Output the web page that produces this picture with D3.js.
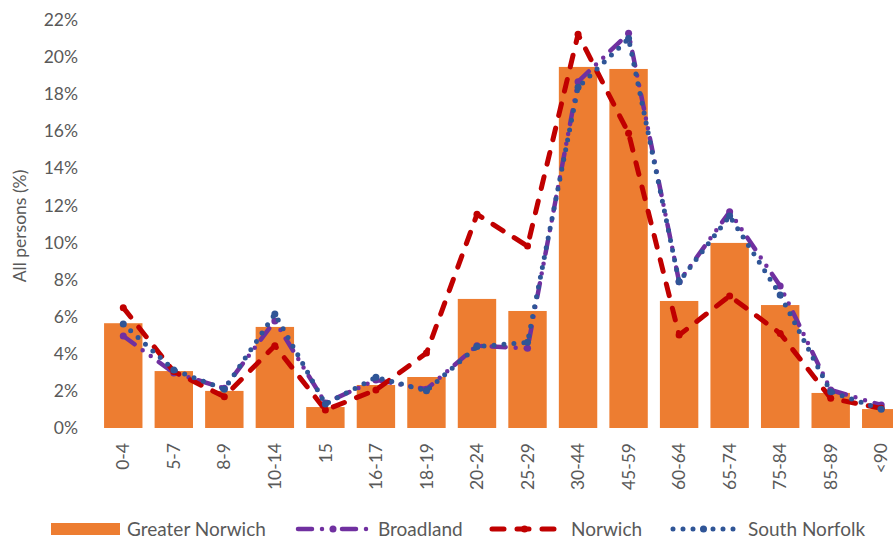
<!DOCTYPE html>
<html>
<head>
<meta charset="utf-8">
<script src="https://cdn.jsdelivr.net/npm/d3@7"></script>
<style>
  body { margin: 0; background: #fff; }
  svg { display: block; font-family: Lato, "Open Sans", sans-serif; }
</style>
</head>
<body>
<div id="container"></div>
<script>
/* CONSTANTS AND GLOBALS */
const width = 893,
  height = 540;

// DATA
const ageBands = ["0-4", "5-7", "8-9", "10-14", "15", "16-17", "18-19", "20-24",
  "25-29", "30-44", "45-59", "60-64", "65-74", "75-84", "85-89", "<90"];
const greaterNorwich = [5.65, 3.07, 2.0, 5.45, 1.13, 2.32, 2.75, 6.96,
  6.31, 19.47, 19.36, 6.85, 9.98, 6.63, 1.89, 1.02];
const broadland = [4.96, 2.97, 2.15, 5.77, 1.35, 2.59, 2.09, 4.44,
  4.3, 18.67, 21.28, 7.89, 11.66, 7.66, 2.05, 1.24];
const norwich = [6.49, 3.04, 1.69, 4.44, 0.97, 2.05, 4.04, 11.52,
  9.81, 21.23, 15.89, 5.01, 7.12, 5.1, 1.6, 1.06];
const southNorfolk = [5.61, 3.13, 2.09, 6.15, 1.29, 2.73, 2.01, 4.39,
  4.62, 18.37, 21.0, 7.89, 11.43, 7.17, 1.96, 1.01];
const yTicks = [0, 2, 4, 6, 8, 10, 12, 14, 16, 18, 20, 22];

const textColor = "#595959";
const lineSeries = [
  { name: "Broadland", values: broadland, color: "#7030A0", width: 4.5, dash: "14,10,0,10,0,10" },
  { name: "Norwich", values: norwich, color: "#C00000", width: 5, dash: "12,13" },
  { name: "South Norfolk", values: southNorfolk, color: "#2F5597", width: 5, dash: "0,10" }
];

const svg = d3.select("#container").append("svg")
  .attr("width", width)
  .attr("height", height);

// SCALES
const x = d3.scaleBand()
  .domain(ageBands)
  .range([98, 906.5])
  .paddingInner(0.24)
  .paddingOuter(0.12);

const y = d3.scaleLinear()
  .domain([0, 22])
  .range([428, 20]);

// Y AXIS (labels only)
const yAxis = svg.append("g")
  .attr("transform", "translate(78,0)")
  .call(d3.axisLeft(y).tickValues(yTicks).tickSize(0).tickPadding(0).tickFormat(d => d + "%"));
yAxis.select(".domain").remove();
yAxis.selectAll("text")
  .attr("fill", textColor)
  .style("font-size", "17.5px")
  .style("font-family", "Lato, sans-serif");

svg.append("text")
  .attr("transform", "translate(26,226) rotate(-90)")
  .attr("text-anchor", "middle")
  .attr("fill", textColor)
  .style("font-size", "17.5px")
  .text("All persons (%)");

// X AXIS (rotated labels)
const xAxis = svg.append("g")
  .attr("transform", "translate(0,443)")
  .call(d3.axisBottom(x).tickSize(0).tickPadding(0));
xAxis.select(".domain").remove();
xAxis.selectAll("text")
  .attr("fill", textColor)
  .style("font-size", "17.5px")
  .style("font-family", "Lato, sans-serif")
  .attr("text-anchor", "end")
  .attr("transform", "rotate(-90)")
  .attr("x", 0)
  .attr("y", 0)
  .attr("dy", "0.35em");

// BARS
svg.selectAll("rect.bar")
  .data(greaterNorwich)
  .join("rect")
  .attr("class", "bar")
  .attr("x", (d, i) => x(ageBands[i]))
  .attr("width", x.bandwidth())
  .attr("y", d => y(d))
  .attr("height", d => y(0) - y(d))
  .attr("fill", "#ED7D31");

// LINES
const lineGen = d3.line()
  .x((d, i) => x(ageBands[i]) + x.bandwidth() / 2)
  .y(d => y(d));

lineSeries.forEach(s => {
  svg.append("path")
    .datum(s.values)
    .attr("d", lineGen)
    .attr("fill", "none")
    .attr("stroke", s.color)
    .attr("stroke-width", s.width)
    .attr("stroke-dasharray", s.dash)
    .attr("stroke-linecap", "round")
    .attr("stroke-linejoin", "round");

  svg.selectAll(null)
    .data(s.values)
    .join("circle")
    .attr("cx", (d, i) => x(ageBands[i]) + x.bandwidth() / 2)
    .attr("cy", d => y(d))
    .attr("r", 3.5)
    .attr("fill", s.color);
});

// LEGEND
const legend = svg.append("g").attr("transform", "translate(0,529)");
legend.append("rect")
  .attr("x", 51).attr("y", -6).attr("width", 69).attr("height", 12)
  .attr("fill", "#ED7D31");
legend.append("text")
  .attr("x", 127).attr("dy", "0.35em")
  .attr("fill", textColor).style("font-size", "19px")
  .text("Greater Norwich");

const legendPos = [
  { x0: 298, x1: 368, tx: 378 },
  { x0: 492, x1: 557, tx: 571 },
  { x0: 673, x1: 734, tx: 748 }
];
lineSeries.forEach((s, i) => {
  const p = legendPos[i];
  legend.append("line")
    .attr("x1", p.x0).attr("x2", p.x1)
    .attr("stroke", s.color)
    .attr("stroke-width", s.width)
    .attr("stroke-dasharray", s.dash)
    .attr("stroke-linecap", "round");
  legend.append("circle")
    .attr("cx", (p.x0 + p.x1) / 2).attr("r", 3.5)
    .attr("fill", s.color);
  legend.append("text")
    .attr("x", p.tx).attr("dy", "0.35em")
    .attr("fill", textColor).style("font-size", "19px")
    .text(s.name);
});
</script>
</body>
</html>
